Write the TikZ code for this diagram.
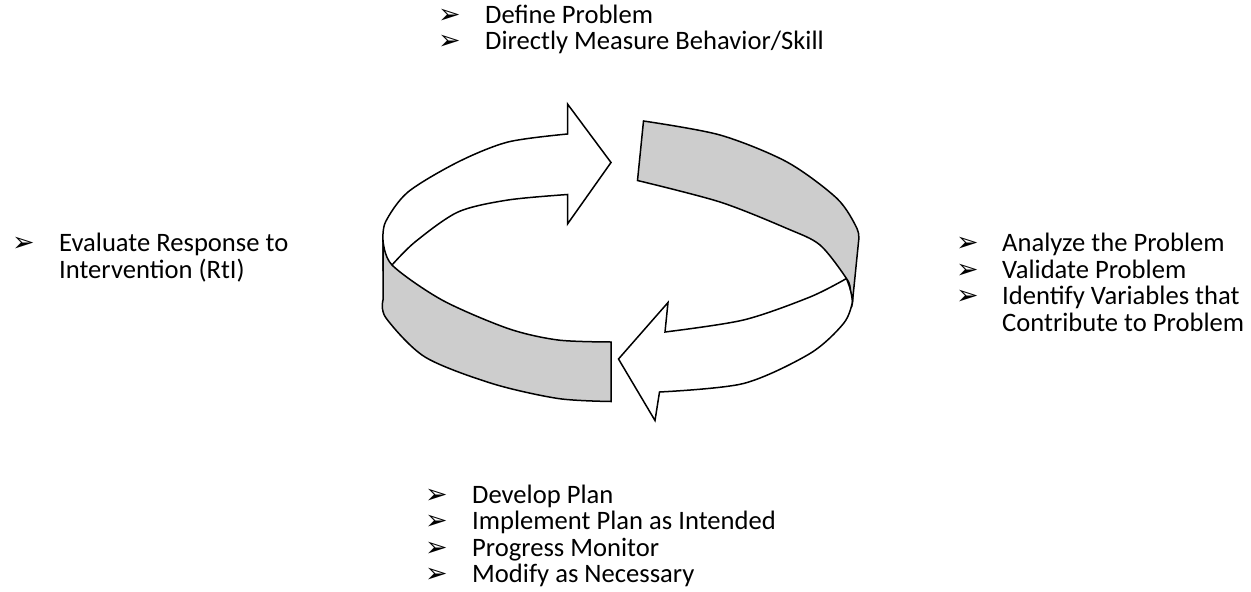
\documentclass[tikz,border=0pt]{standalone}
\usepackage{fontspec}
\setmainfont{Carlito}
\newfontfamily\dingfont{DejaVu Sans}
\usepackage{tikz}

\definecolor{bandgray}{RGB}{205,205,205}

\tikzset{
  ringline/.style={draw=black, line width=1.5pt, line join=miter},
  txt/.style={anchor=base west, inner sep=0pt, font=\fontsize{26.6}{26.5}\selectfont},
  arrowbul/.style={anchor=base west, inner sep=0pt, font=\dingfont\fontsize{27}{27}\selectfont},
}

\begin{document}
\begin{tikzpicture}[x=1pt,y=-1pt]
\useasboundingbox (0,0) rectangle (1251,592);

% white arrows first, the grey bands lie over them
\draw[ringline, fill=white] plot[smooth] coordinates {(383,242) (385.5,222) (408,192) (458,162) (508,142) (567.5,134)}
  -- (567.5,104) -- (611,162.5) -- (567.5,224) -- (567.5,194.5)
  -- plot[smooth] coordinates {(567.5,194.5) (508,200) (458,212) (415,242) (392,265)}
  -- (383,270) -- cycle;
\draw[ringline, fill=white] plot[smooth] coordinates {(846.5,278.5) (850.5,290) (852.5,301.5) (843.5,323.5) (810,353.5) (743.5,383.5) (659.5,392)}
  -- (655,420.5) -- (618.5,359) -- (668,302.5) -- (665,332)
  -- plot[smooth] coordinates {(665,332) (743.5,320) (810,297) (846.5,278.5)} -- cycle;

% grey bands
\draw[ringline, fill=bandgray] (383,240) -- (383,300)
  -- plot[smooth] coordinates {(383,300) (386,318) (425,357) (492,383.5) (558,398.5) (611,401.5)}
  -- (611,342)
  -- plot[smooth] coordinates {(611,342) (558,340) (508,328.5) (442,300) (392,265) (383,240)} -- cycle;
\draw[ringline, fill=bandgray] plot[smooth] coordinates {(643.5,121) (720,135) (787,162) (837,198.5) (857,228.5) (858.5,242)}
  -- (852.5,301.5)
  -- plot[smooth] coordinates {(852.5,301.5) (850.5,290) (846.5,278.5) (820,245) (787,228.5) (720,202) (637.5,180.5)} -- cycle;

% top list
\foreach \t [count=\i] in {Define Problem, Directly Measure Behavior/Skill} {
  \node[arrowbul] (topb\i) at (438,{23+26.5*(\i-1)}) {➢};
  \node[txt] (top\i) at (485,{23+26.5*(\i-1)}) {\t};
}

% left list
\node[arrowbul] (leftb1) at (12,251.5) {➢};
\node[txt] (left1) at (59,251.5) {Evaluate Response to};
\node[txt] (left2) at (59,278) {Intervention (RtI)};

% right list
\foreach \t [count=\i] in {Analyze the Problem, Validate Problem, Identify Variables that} {
  \node[arrowbul] (rightb\i) at (956,{251.5+26.5*(\i-1)}) {➢};
  \node[txt] (right\i) at (1002,{251.5+26.5*(\i-1)}) {\t};
}
\node[txt] (right4) at (1002,331) {Contribute to Problem};

% bottom list
\foreach \t [count=\i] in {Develop Plan, Implement Plan as Intended, Progress Monitor, Modify as Necessary} {
  \node[arrowbul] (botb\i) at (425,{503+26.5*(\i-1)}) {➢};
  \node[txt] (bot\i) at (472,{503+26.5*(\i-1)}) {\t};
}
\end{tikzpicture}
\end{document}
